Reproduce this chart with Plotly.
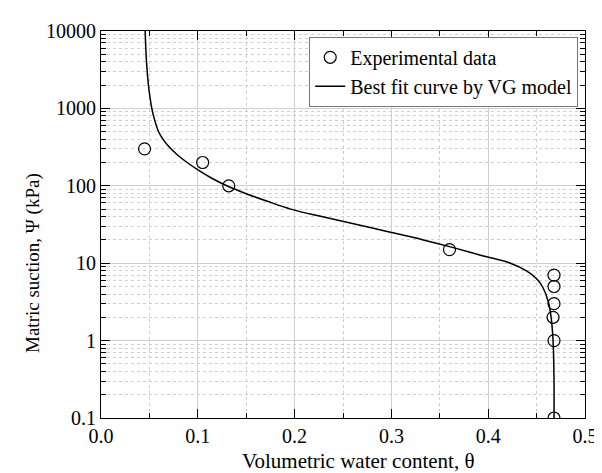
import plotly.graph_objects as go

# Measured points (volumetric water content vs matric suction)
exp_theta = [0.045, 0.105, 0.132, 0.360, 0.468, 0.468, 0.468, 0.467, 0.468, 0.468]
exp_psi = [300, 200, 100, 15, 7, 5, 3, 2, 1, 0.1]

# VG best-fit curve
vg_psi = [10000, 4000, 2000, 1400, 1000, 700, 500, 400, 316, 250,
          200, 158, 126, 100, 79, 63, 50, 40, 32, 25,
          20, 16, 12.6, 10, 7.9, 6.3, 5, 3.2, 2, 1,
          0.32, 0.1]
vg_theta = [0.0456, 0.0470, 0.0490, 0.0506, 0.0525, 0.0555, 0.0595, 0.0640, 0.0705, 0.0790,
            0.0890, 0.1010, 0.1140, 0.1300, 0.1500, 0.1720, 0.1960, 0.2280, 0.2620, 0.3000,
            0.3330, 0.3630, 0.3930, 0.4230, 0.4400, 0.4500, 0.4560, 0.4620, 0.4650, 0.4670,
            0.4680, 0.4680]

y_tickvals = [0.1, 1, 10, 100, 1000, 10000]
y_ticktext = ["0.1", "1", "10", "100", "1000", "10000"]

x_title = "Volumetric water content, θ"
y_title = "Matric suction, Ψ (kPa)"

font_family = "Liberation Serif, Times New Roman, serif"

fig = go.Figure()
fig.add_trace(go.Scatter(
    x=exp_theta, y=exp_psi, mode="markers", name="Experimental data",
    marker=dict(symbol="circle-open", size=12, color="black", line=dict(width=1.2, color="black")),
))
fig.add_trace(go.Scatter(
    x=vg_theta, y=vg_psi, mode="lines", name="Best fit curve by VG model",
    line=dict(color="black", width=1.5, shape="spline", smoothing=1),
))

fig.update_xaxes(
    range=[0, 0.5], dtick=0.1, tickformat=".1f",
    ticks="inside", ticklen=9, tickcolor="black",
    showline=True, linecolor="black", linewidth=1.2, mirror="ticks",
    showgrid=True, gridcolor="#cfcfcf", gridwidth=1, zeroline=False,
    minor=dict(dtick=0.05, ticks="inside", ticklen=5, tickcolor="black",
               showgrid=True, gridcolor="#cfcfcf", griddash="dot"),
    tickfont=dict(size=20),
)
fig.update_yaxes(
    type="log", range=[-1, 4], tickvals=y_tickvals, ticktext=y_ticktext,
    ticks="inside", ticklen=9, tickcolor="black",
    showline=True, linecolor="black", linewidth=1.2, mirror="ticks",
    showgrid=True, gridcolor="#cfcfcf", gridwidth=1, zeroline=False,
    minor=dict(dtick="D1", ticks="inside", ticklen=5, tickcolor="black",
               showgrid=True, gridcolor="#cfcfcf", griddash="dot"),
    tickfont=dict(size=20),
)

# axis titles as annotations so they can sit where the original has them
fig.add_annotation(text=x_title, xref="paper", yref="paper", x=0.53, y=-0.112,
                   xanchor="center", yanchor="middle", showarrow=False, font=dict(size=21))
fig.add_annotation(text=y_title, xref="paper", yref="paper", x=-0.141, y=0.40,
                   xanchor="center", yanchor="middle", textangle=-90, showarrow=False,
                   font=dict(size=19))

fig.update_layout(
    width=602, height=473,
    margin=dict(l=93, r=20, t=18, b=63),
    paper_bgcolor="white", plot_bgcolor="white",
    font=dict(family=font_family, color="black", size=20),
    legend=dict(x=0.986, y=0.985, xanchor="right", yanchor="top",
                bgcolor="white", bordercolor="#777", borderwidth=1,
                font=dict(size=20), tracegroupgap=0),
    showlegend=True,
)

fig.write_html("out.html")
